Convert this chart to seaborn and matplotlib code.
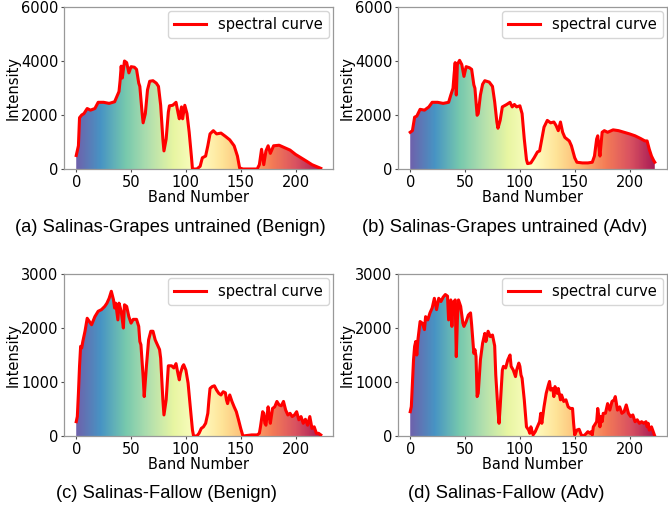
import matplotlib
matplotlib.use("Agg")
import matplotlib.pyplot as plt
import seaborn as sns
import numpy as np
import pandas as pd

# (a) Salinas-Grapes untrained, benign
bands_a = [0, 2, 3, 5, 7, 10, 13, 17, 20, 25, 30, 35, 37, 39, 40, 41, 42, 44, 46, 48,
           50, 53, 55, 57, 58, 60, 61, 63, 65, 67, 70, 73, 75, 77, 79, 80, 82, 84, 85, 88,
           91, 93, 94, 96, 97, 99, 101, 103, 105, 106, 110, 113, 115, 118, 120, 122, 125,
           128, 132, 136, 140, 144, 147, 149, 152, 165, 167, 169, 171, 173, 175, 177, 180,
           185, 190, 195, 200, 205, 210, 215, 220, 223]
grapes_benign = [500, 860, 1900, 2000, 2050, 2240, 2180, 2240, 2470, 2470, 2430, 2490, 2680,
                 2870, 3270, 3810, 3370, 4000, 3940, 3560, 3790, 3770, 3690, 3180, 3060, 2110,
                 1710, 2050, 2930, 3250, 3270, 3180, 3060, 2360, 1110, 670, 1110, 2110, 2340,
                 2360, 2470, 2050, 1860, 2300, 1860, 2360, 2050, 1360, 480, 0, 0, 100, 415,
                 480, 860, 1300, 1420, 1300, 1330, 1210, 1080, 860, 480, 40, 0, 0, 160, 730,
                 160, 670, 860, 580, 860, 880, 790, 700, 540, 415, 290, 160, 75, 25]

# (b) Salinas-Grapes untrained, adversarial
bands_b = [0, 2, 4, 6, 9, 13, 17, 20, 25, 30, 35, 37, 39, 40, 41, 42, 43, 45, 47, 49, 51,
           54, 56, 58, 59, 61, 62, 64, 66, 68, 72, 75, 77, 79, 80, 82, 84, 88, 91, 93, 95,
           97, 100, 102, 104, 106, 107, 110, 113, 116, 118, 120, 122, 125, 128, 131, 133,
           135, 137, 139, 141, 145, 147, 150, 152, 157, 162, 166, 168, 170, 171, 172, 173,
           175, 177, 180, 185, 190, 195, 200, 205, 210, 214, 216, 218, 220, 222, 223]
grapes_adv = [1360, 1420, 1920, 1960, 2210, 2180, 2300, 2470, 2470, 2430, 2470, 2740, 2990,
              3500, 3940, 2740, 3870, 4025, 3870, 3430, 3790, 3750, 3690, 3120, 2990, 1990,
              2050, 2740, 3140, 3270, 3220, 3060, 2490, 1740, 1510, 1800, 2300, 2390, 2470,
              2300, 2390, 2300, 2340, 2050, 1110, 350, 200, 225, 415, 630, 670, 1110, 1550,
              1800, 1710, 1740, 1610, 1420, 1740, 1360, 1170, 1040, 860, 415, 250, 225, 225,
              250, 480, 1110, 1230, 860, 480, 1360, 1420, 1360, 1450, 1420, 1360, 1300, 1230,
              1130, 1040, 1040, 730, 480, 315, 250]

# (c) Salinas-Fallow, benign
bands_c = [0, 1, 2, 3, 4, 5, 6, 8, 10, 12, 14, 17, 20, 23, 26, 28, 30, 32, 34, 35, 36, 38,
           39, 41, 43, 44, 46, 48, 50, 52, 55, 57, 58, 59, 61, 62, 64, 66, 68, 70, 72, 74,
           76, 77, 79, 80, 82, 84, 87, 89, 91, 93, 94, 95, 97, 98, 100, 102, 104, 106, 107,
           110, 112, 114, 116, 118, 120, 121, 122, 124, 126, 128, 130, 132, 134, 136, 137,
           138, 140, 142, 144, 146, 148, 150, 152, 160, 165, 167, 168, 170, 171, 172, 173,
           175, 176, 177, 179, 181, 183, 185, 187, 189, 191, 193, 195, 197, 199, 201, 203,
           205, 207, 209, 211, 213, 215, 217, 219, 221, 223]
fallow_benign = [265, 360, 790, 1290, 1660, 1630, 1750, 1940, 2180, 2120, 2060, 2210, 2310,
                 2340, 2400, 2460, 2550, 2680, 2520, 2370, 2460, 2150, 2460, 2310, 2000, 2430,
                 2400, 2210, 2090, 2160, 2160, 2030, 1750, 1690, 1100, 730, 1290, 1780, 1940,
                 1940, 1780, 1690, 1600, 1440, 670, 390, 670, 1300, 1300, 1260, 1340, 1130,
                 1040, 1160, 1290, 1320, 1220, 980, 540, 110, 0, 0, 50, 140, 170, 235, 420, 670,
                 880, 915, 930, 850, 790, 760, 820, 800, 670, 600, 760, 640, 540, 450, 300, 140,
                 0, 20, 20, 50, 170, 450, 420, 235, 200, 540, 360, 235, 510, 540, 640, 575, 560,
                 640, 480, 390, 420, 360, 390, 450, 300, 360, 235, 310, 200, 360, 140, 170, 50,
                 50, 20]

# (d) Salinas-Fallow, adversarial
bands_d = [0, 1, 2, 3, 4, 5, 6, 7, 9, 11, 13, 14, 16, 18, 20, 22, 24, 26, 28, 30, 32, 34,
           35, 37, 38, 39, 41, 42, 43, 44, 46, 48, 49, 51, 53, 55, 56, 58, 59, 60, 61, 62,
           64, 66, 68, 69, 71, 73, 75, 77, 78, 80, 81, 82, 84, 85, 87, 89, 91, 92, 94, 96,
           97, 99, 100, 101, 102, 104, 106, 108, 109, 110, 112, 114, 116, 118, 119, 120, 122,
           124, 126, 127, 128, 130, 131, 132, 134, 135, 137, 138, 140, 142, 144, 146, 148,
           149, 150, 152, 154, 156, 158, 160, 162, 164, 165, 166, 167, 168, 170, 171, 172,
           173, 174, 175, 176, 178, 180, 182, 184, 186, 187, 189, 191, 193, 195, 197, 199,
           201, 203, 205, 207, 209, 211, 213, 215, 216, 217, 218, 220, 222, 223]
fallow_adv = [450, 545, 980, 1410, 1660, 1750, 1500, 1780, 2120, 2090, 1970, 2210, 2150, 2280,
              2370, 2550, 2340, 2550, 2490, 2570, 2620, 2590, 2150, 2520, 2030, 2460, 2520,
              1470, 2150, 2520, 2400, 2090, 2030, 2120, 2240, 2280, 2060, 1530, 1600, 1470,
              730, 790, 1410, 1720, 1900, 1750, 1940, 1840, 1870, 1670, 1130, 480, 235, 540,
              1220, 1290, 1260, 1410, 1500, 1290, 1220, 1100, 1220, 1350, 1290, 1130, 1070,
              670, 170, 110, 50, 170, 20, 80, 170, 265, 420, 235, 540, 790, 945, 1010, 850,
              880, 730, 915, 790, 880, 670, 760, 640, 670, 540, 510, 510, 235, 20, 110, 125,
              20, 0, 35, 80, 50, 80, 20, 170, 200, 265, 510, 360, 170, 360, 265, 420, 420, 600,
              480, 640, 670, 730, 480, 540, 420, 450, 575, 420, 360, 390, 265, 300, 235, 265,
              235, 265, 170, 235, 110, 170, 60, 0]

panels = [
    (bands_a, grapes_benign, 6000, [0, 2000, 4000, 6000], "(a) Salinas-Grapes untrained (Benign)"),
    (bands_b, grapes_adv, 6000, [0, 2000, 4000, 6000], "(b) Salinas-Grapes untrained (Adv)"),
    (bands_c, fallow_benign, 3000, [0, 1000, 2000, 3000], "(c) Salinas-Fallow (Benign)"),
    (bands_d, fallow_adv, 3000, [0, 1000, 2000, 3000], "(d) Salinas-Fallow (Adv)"),
]

W, H = 668, 508
fig = plt.figure(figsize=(W / 100, H / 100), dpi=100)

# axes boxes in pixels: left, top
boxes = [(64, 7), (398, 7), (64, 274), (398, 274)]
caption_pos = [(170, 227), (505, 227), (166, 493), (506, 493)]
ax_w, ax_h = 269, 162

gradient = np.linspace(0, 1, 256).reshape(1, -1)

for (bands, vals, ymax, yticks, caption), (px, py), (cx, cy) in zip(panels, boxes, caption_pos):
    ax = fig.add_axes([px / W, 1 - (py + ax_h) / H, ax_w / W, ax_h / H])
    df = pd.DataFrame({"band": bands, "intensity": vals})

    # gradient fill under the curve, clipped to the area polygon
    poly = ax.fill_between(df["band"], df["intensity"], 0, color="none", lw=0)
    img = ax.imshow(gradient, cmap="Spectral_r", aspect="auto", alpha=0.9,
                    extent=[min(bands), max(bands), 0, ymax], origin="lower", zorder=1)
    img.set_clip_path(poly.get_paths()[0], transform=ax.transData)

    sns.lineplot(data=df, x="band", y="intensity", ax=ax, color="red", lw=2.2,
                 label="spectral curve", zorder=3)

    ax.set_xlim(-11.15, 234.15)
    ax.set_ylim(0, ymax)
    ax.set_xticks([0, 50, 100, 150, 200])
    ax.set_yticks(yticks)
    ax.tick_params(labelsize=10.5, length=2.5, pad=1.5, color="0.3")
    ax.set_xlabel("Band Number", fontsize=10.5, labelpad=0)
    ax.set_ylabel("Intensity", fontsize=10.5, labelpad=0.5)
    for sp in ax.spines.values():
        sp.set_color("0.6")
        sp.set_linewidth(0.9)
    ax.legend(loc="upper right", fontsize=10.5, handlelength=2.2, borderaxespad=0.3)

    fig.text(cx / W, 1 - cy / H, caption, ha="center", va="center",
             fontsize=13.2, family=["Liberation Sans", "DejaVu Sans"])

fig.savefig("out.png", dpi=100)
